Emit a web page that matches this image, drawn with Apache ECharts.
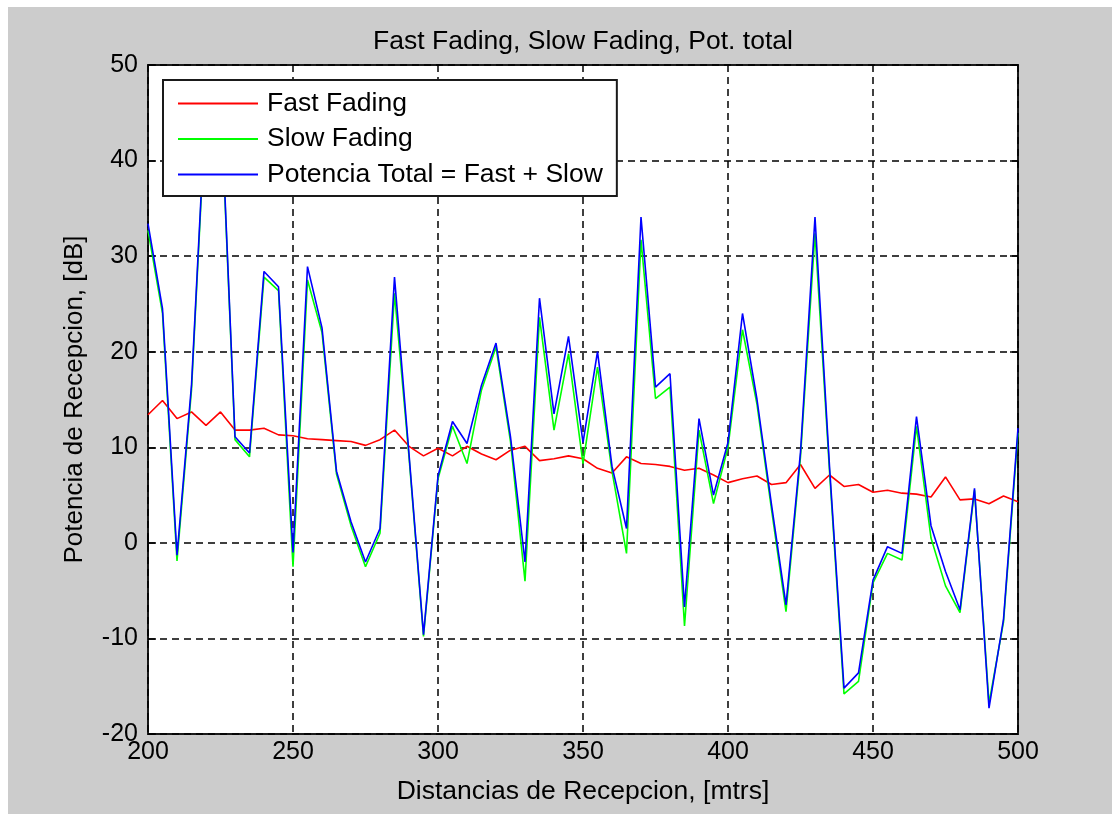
<!DOCTYPE html>
<html>
<head>
<meta charset="utf-8">
<title>Fast Fading, Slow Fading, Pot. total</title>
<script src="https://cdn.jsdelivr.net/npm/echarts@6.0.0/dist/echarts.min.js"></script>
<style>
  html, body { margin: 0; padding: 0; background: #fff; }
  #chart { position: absolute; left: 8px; top: 7px; width: 1104px; height: 807px; }
</style>
</head>
<body>
<div id="chart"></div>
<script>
// distancias (mtrs)
const distances = [
  200, 205, 210, 215, 220, 225, 230, 235, 240, 245,
  250, 255, 260, 265, 270, 275, 280, 285, 290, 295,
  300, 305, 310, 315, 320, 325, 330, 335, 340, 345,
  350, 355, 360, 365, 370, 375, 380, 385, 390, 395,
  400, 405, 410, 415, 420, 425, 430, 435, 440, 445,
  450, 455, 460, 465, 470, 475, 480, 485, 490, 495,
  500
]

// potencias (dB)
const fastFading = [
  13.4, 14.9, 13.0, 13.7, 12.3, 13.7, 11.8, 11.8, 12.0, 11.3,
  11.2, 10.9, 10.8, 10.7, 10.6, 10.2, 10.8, 11.8, 10.1, 9.1,
  9.9, 9.1, 10.1, 9.3, 8.7, 9.7, 10.1, 8.6, 8.8, 9.1,
  8.8, 7.8, 7.3, 9.0, 8.3, 8.2, 8.0, 7.6, 7.8, 7.1,
  6.3, 6.7, 7.0, 6.1, 6.3, 8.2, 5.7, 7.1, 5.9, 6.1,
  5.3, 5.5, 5.2, 5.1, 4.8, 6.9, 4.5, 4.6, 4.1, 4.9,
  4.3
]

const slowFading = [
  32.7, 24.0, -1.9, 16.0, 46.0, 47.0, 10.8, 9.0, 27.8, 26.4,
  -2.5, 27.5, 22.0, 7.2, 1.8, -2.5, 1.0, 26.1, 9.0, -9.8,
  6.7, 12.2, 8.3, 16.0, 20.5, 10.6, -4.0, 23.6, 11.8, 19.8,
  8.3, 18.4, 7.5, -1.1, 31.7, 15.1, 16.3, -8.7, 11.8, 4.1,
  10.0, 22.3, 14.5, 3.5, -7.2, 9.0, 32.4, 7.5, -15.8, -14.5,
  -4.2, -1.1, -1.8, 12.2, 0.5, -4.5, -7.3, 5.5, -16.8, -8.3,
  11.5
]

const totalPower = [
  33.4, 24.5, -1.3, 16.5, 46.5, 47.5, 11.1, 9.4, 28.4, 26.8,
  -1.0, 28.9, 22.5, 7.5, 2.2, -2.0, 1.5, 27.8, 9.3, -9.6,
  7.0, 12.7, 10.4, 16.5, 20.9, 11.1, -2.0, 25.6, 13.5, 21.6,
  10.5, 20.0, 8.0, 1.5, 34.1, 16.3, 17.7, -6.7, 13.0, 5.0,
  10.5, 24.0, 15.0, 4.0, -6.5, 9.5, 34.1, 8.0, -15.2, -13.6,
  -3.9, -0.4, -1.1, 13.2, 1.8, -3.0, -7.0, 5.7, -17.3, -8.0,
  12.0
]

const FONT = "'Liberation Sans', Arial, sans-serif"

function pairs(values) {
  return distances.map((d, i) => [d, values[i]])
}

function lineSeries(name, values, color) {
  return {
    name: name,
    type: 'line',
    data: pairs(values),
    symbol: 'none',
    animation: false,
    lineStyle: { color: color, width: 1.6 },
    itemStyle: { color: color }
  }
}

// ticks hacia adentro en los cuatro lados, como en MATLAB
const tick = { show: true, inside: true, length: 8, lineStyle: { color: '#000', width: 1.5 } }
const grid = { show: true, lineStyle: { color: '#000', width: 1.5, type: [7, 5] } }

const chart = echarts.init(document.getElementById('chart'))

chart.setOption({
  backgroundColor: '#cccccc',
  animation: false,
  textStyle: { fontFamily: FONT },
  title: {
    text: 'Fast Fading, Slow Fading, Pot. total',
    left: 570,
    textAlign: 'center',
    top: 16,
    textStyle: { fontFamily: FONT, fontSize: 26.5, fontWeight: 'normal', color: '#000' }
  },
  grid: {
    left: 140,
    right: 94,
    top: 58,
    bottom: 80,
    show: true,
    backgroundColor: '#fff',
    borderColor: '#1a1a1a',
    borderWidth: 2
  },
  legend: {
    left: 155,
    top: 73,
    orient: 'vertical',
    padding: [10, 14, 8, 15],
    icon: 'rect',
    itemWidth: 80,
    itemHeight: 2,
    itemGap: 8.5,
    backgroundColor: '#fff',
    borderColor: '#1a1a1a',
    borderWidth: 2,
    textStyle: { fontFamily: FONT, fontSize: 26.5, color: '#000', lineHeight: 26, padding: [0, 0, 0, 4] },
    data: ['Fast Fading', 'Slow Fading', 'Potencia Total = Fast + Slow']
  },
  xAxis: [
    {
      type: 'value',
      min: 200,
      max: 500,
      interval: 50,
      name: 'Distancias de Recepcion, [mtrs]',
      nameLocation: 'middle',
      nameGap: 44,
      nameTextStyle: { fontFamily: FONT, fontSize: 26.5, color: '#000' },
      axisLine: { show: false },
      axisTick: tick,
      axisLabel: { fontFamily: FONT, fontSize: 25, color: '#000', margin: 6 },
      splitLine: grid
    },
    {
      type: 'value',
      position: 'top',
      min: 200,
      max: 500,
      interval: 50,
      axisLine: { show: false },
      axisTick: tick,
      axisLabel: { show: false },
      splitLine: { show: false }
    }
  ],
  yAxis: [
    {
      type: 'value',
      min: -20,
      max: 50,
      interval: 10,
      name: 'Potencia de Recepcion, [dB]',
      nameLocation: 'middle',
      nameGap: 60,
      nameTextStyle: { fontFamily: FONT, fontSize: 26, color: '#000' },
      axisLine: { show: false },
      axisTick: tick,
      axisLabel: { fontFamily: FONT, fontSize: 25, color: '#000', margin: 10 },
      splitLine: grid
    },
    {
      type: 'value',
      position: 'right',
      min: -20,
      max: 50,
      interval: 10,
      axisLine: { show: false },
      axisTick: tick,
      axisLabel: { show: false },
      splitLine: { show: false }
    }
  ],
  series: [
    lineSeries('Fast Fading', fastFading, '#ff0000'),
    lineSeries('Slow Fading', slowFading, '#00ff00'),
    lineSeries('Potencia Total = Fast + Slow', totalPower, '#0000ff')
  ]
})
</script>
</body>
</html>
